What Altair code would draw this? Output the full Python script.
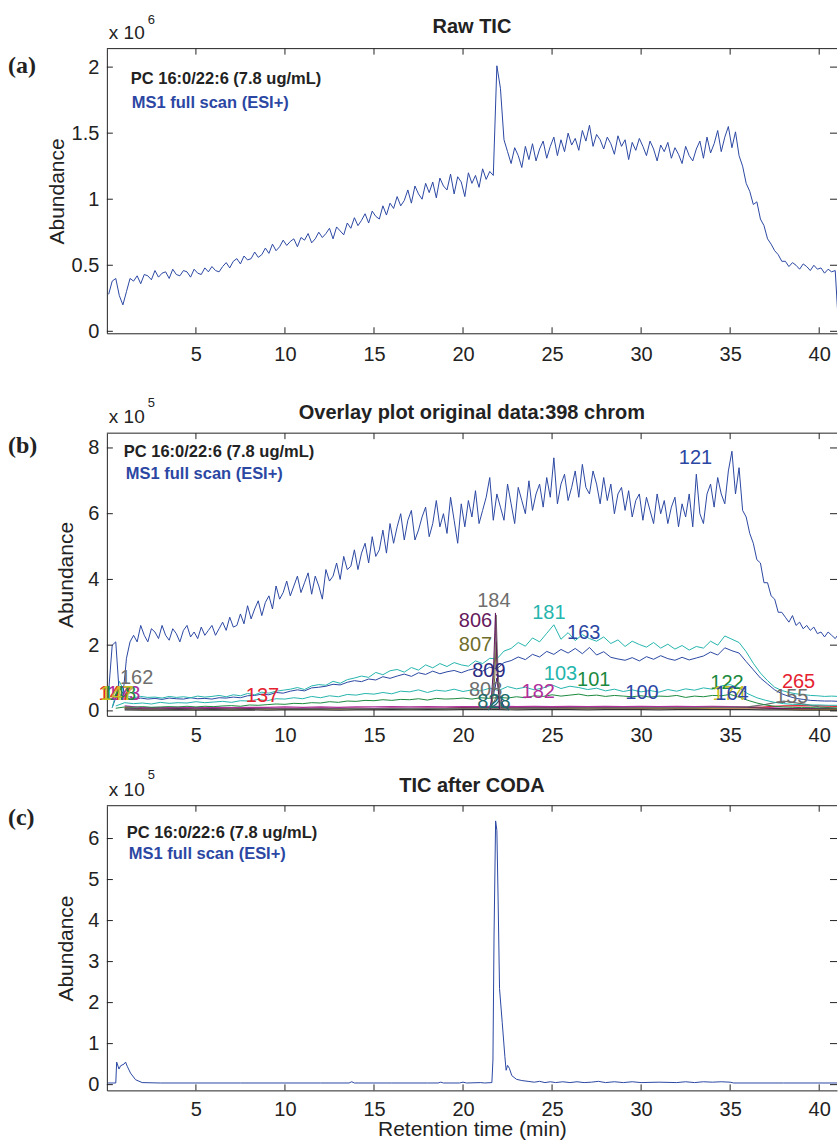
import altair as alt
import pandas as pd

FONT = "Liberation Sans"
SERIF = "Liberation Serif"
INK = "#222222"
BLUE = "#2b47a3"
CYAN = "#25b5ad"
GREEN = "#1b8a3e"
MAGENTA = "#b02f9b"
RED = "#e52330"
GRAY = "#6e6e6e"
PURPLE = "#66195c"
OLIVE = "#6f6d2b"
NAVY = "#2c2c84"
TEAL = "#1a6b6b"
YELLOW = "#c9c11f"
DARK = "#333333"

W = 731
HA, HB, HC = 285, 283, 285
X_DOMAIN = [0, 41]
X_TICKS = [5, 10, 15, 20, 25, 30, 35, 40]
YA_TICKS = [0, 0.5, 1, 1.5, 2]
YB_TICKS = [0, 2, 4, 6, 8]
YC_TICKS = [0, 1, 2, 3, 4, 5, 6]

# ---------- panel (a): raw TIC (x 1e6), one scan every 0.2 min from 0.1 min ----------
RAW_START, RAW_STEP = 0.1, 0.2
raw_tic = [
    0.28, 0.38, 0.40, 0.27, 0.20, 0.30, 0.40, 0.38, 0.42, 0.36,
    0.43, 0.42, 0.39, 0.46, 0.41, 0.44, 0.45, 0.40, 0.47, 0.43,
    0.42, 0.46, 0.45, 0.41, 0.47, 0.44, 0.43, 0.48, 0.45, 0.49,
    0.46, 0.45, 0.49, 0.52, 0.48, 0.53, 0.55, 0.51, 0.57, 0.54,
    0.55, 0.60, 0.56, 0.58, 0.63, 0.59, 0.66, 0.61, 0.64, 0.69,
    0.65, 0.68, 0.70, 0.64, 0.71, 0.69, 0.74, 0.67, 0.70, 0.75,
    0.71, 0.74, 0.78, 0.70, 0.79, 0.76, 0.73, 0.82, 0.78, 0.86,
    0.80, 0.84, 0.89, 0.82, 0.91, 0.87, 0.85, 0.95, 0.88, 0.97,
    0.93, 1.02, 0.95, 0.99, 1.07, 0.97, 1.10, 1.04, 1.00, 1.12,
    1.05, 1.13, 1.01, 1.16, 1.10, 1.07, 1.19, 1.04, 1.17, 1.13,
    1.02, 1.20, 1.12, 1.18, 1.09, 1.23, 1.15, 1.21, 1.18, 2.01,
    1.84, 1.45, 1.36, 1.27, 1.39, 1.33, 1.24, 1.40, 1.30, 1.42,
    1.29, 1.38, 1.44, 1.31, 1.40, 1.47, 1.33, 1.45, 1.36, 1.50,
    1.41, 1.46, 1.37, 1.52, 1.44, 1.56, 1.40, 1.49, 1.45, 1.38,
    1.47, 1.42, 1.34, 1.48, 1.40, 1.45, 1.30, 1.43, 1.37, 1.46,
    1.40, 1.33, 1.44, 1.38, 1.29, 1.41, 1.36, 1.43, 1.31, 1.39,
    1.34, 1.27, 1.40, 1.33, 1.29, 1.38, 1.44, 1.31, 1.47, 1.35,
    1.42, 1.52, 1.36, 1.47, 1.55, 1.39, 1.51, 1.33, 1.25, 1.12,
    1.06, 0.96, 0.98, 0.85, 0.80, 0.70, 0.66, 0.61, 0.58, 0.53,
    0.53, 0.49, 0.52, 0.50, 0.47, 0.51, 0.49, 0.46, 0.50, 0.47,
    0.48, 0.44, 0.47, 0.45, 0.46, 0.0,
]

# ---------- panel (b): overlay of chromatograms (x 1e5) ----------
# 121 (highest), same scan grid as the raw TIC
ov_121 = [
    0.6, 2.0, 2.1, 0.5, 0.45, 1.6, 2.1, 2.3, 2.1, 2.6,
    2.3, 2.1, 2.5, 2.4, 2.2, 2.6, 2.3, 2.15, 2.5, 2.35,
    2.1, 2.45, 2.6, 2.25, 2.4, 2.2, 2.55, 2.3, 2.45, 2.6,
    2.3, 2.5, 2.7, 2.45, 2.85, 2.55, 2.6, 2.95, 2.65, 3.2,
    2.8, 3.1, 3.35, 2.9, 3.3, 3.5, 3.1, 3.8, 3.4, 3.6,
    3.95, 3.5, 3.8, 4.1, 3.6, 3.9, 4.2, 3.55, 4.1, 3.8,
    3.4, 4.3, 3.95, 4.1, 4.5, 4.0, 4.7, 4.3, 4.4, 4.9,
    4.3, 4.8, 5.1, 4.5, 5.3, 4.7, 4.9, 5.5, 4.8, 5.7,
    5.1, 5.6, 6.0, 5.2, 5.8, 6.1, 5.2, 5.5, 5.9, 6.2,
    5.3, 5.7, 6.4, 5.6, 6.0, 5.4, 6.5, 5.8, 5.1, 6.3,
    5.6, 6.4, 5.9, 6.7, 5.7, 6.1, 6.5, 7.1, 5.8, 6.6,
    6.2, 5.8, 6.9, 6.3, 5.7, 6.8, 6.4, 6.0, 7.0, 6.1,
    6.6, 6.9, 6.2, 7.1, 6.5, 7.7, 6.3, 6.9, 7.2, 6.4,
    6.8, 7.3, 6.5, 7.5, 6.8, 6.6, 7.3, 6.9, 6.3, 7.1,
    6.4, 6.9, 6.0, 6.6, 6.8, 6.1, 6.7, 5.9, 6.4, 6.6,
    5.8, 6.5, 6.1, 5.7, 6.6, 6.0, 6.4, 5.7, 6.2, 6.5,
    5.6, 6.3, 5.9, 6.6, 5.6, 7.2, 6.0, 5.7, 6.6, 6.9,
    6.2, 7.1, 6.6, 6.3, 7.3, 7.9, 6.6, 7.4, 6.1, 5.9,
    5.4, 5.1, 4.6, 4.5, 3.9, 3.9, 3.5, 3.4, 3.0, 3.0,
    2.85, 2.7, 2.9, 2.6, 2.7, 2.5, 2.6, 2.45, 2.55, 2.35,
    2.4, 2.25, 2.4, 2.3, 2.2, 2.35,
]
# 181 and 163, every 0.4 min from 0.3 min
MID_START, MID_STEP = 0.3, 0.4
ov_181 = [
    0.1, 0.9, 0.45, 0.40, 0.44, 0.41, 0.42, 0.39, 0.44, 0.41,
    0.43, 0.40, 0.45, 0.42, 0.44, 0.47, 0.43, 0.49, 0.46, 0.53,
    0.49, 0.57, 0.54, 0.60, 0.63, 0.66, 0.71, 0.65, 0.76, 0.80,
    0.78, 0.90, 0.84, 0.95, 1.00, 1.06, 1.02, 1.17, 1.10, 1.22,
    1.26, 1.18, 1.32, 1.24, 1.40, 1.31, 1.44, 1.35, 1.47, 1.40,
    1.36, 1.52, 1.44, 1.60, 1.58, 1.82, 1.90, 2.08, 1.97, 2.22,
    2.10, 2.36, 2.62, 2.18, 2.38, 2.14, 2.32, 2.20, 2.12, 2.25,
    2.05, 2.16, 1.96, 2.12, 2.02, 1.94, 2.08, 1.91, 2.03, 1.88,
    1.99, 1.85, 1.96, 1.91, 2.12, 2.00, 2.28, 2.18, 2.08, 1.80,
    1.45, 1.15, 0.92, 0.72, 0.62, 0.56, 0.52, 0.50, 0.47, 0.46,
    0.44, 0.45, 0.44,
]
ov_163 = [
    0.1, 0.7, 0.38, 0.35, 0.39, 0.36, 0.38, 0.35, 0.39, 0.37,
    0.36, 0.40, 0.37, 0.38, 0.36, 0.40, 0.39, 0.42, 0.40, 0.46,
    0.47, 0.51, 0.49, 0.56, 0.54, 0.60, 0.64, 0.61, 0.70, 0.72,
    0.75, 0.81, 0.79, 0.87, 0.92, 0.89, 0.97, 0.94, 1.04, 0.99,
    1.06, 1.12, 1.05, 1.16, 1.11, 1.21, 1.13, 1.19, 1.23, 1.16,
    1.24, 1.29, 1.21, 1.33, 1.28, 1.47, 1.53, 1.64, 1.56, 1.72,
    1.64, 1.81, 1.72, 1.87, 1.76, 1.90, 1.74, 1.93, 1.70, 1.80,
    1.63, 1.58, 1.54, 1.62, 1.52, 1.65, 1.57, 1.68, 1.59, 1.54,
    1.63, 1.55, 1.61, 1.67, 1.79, 1.70, 1.92, 1.83, 1.76, 1.50,
    1.25, 1.00, 0.82, 0.64, 0.52, 0.44, 0.38, 0.35, 0.32, 0.31,
    0.30, 0.30, 0.29,
]
# 103 and 101, every 0.5 min from 0.5 min
LOW_START, LOW_STEP = 0.5, 0.5
ov_103 = [
    0.15, 0.25, 0.22, 0.24, 0.21, 0.26, 0.23, 0.25, 0.24, 0.28,
    0.25, 0.27, 0.29, 0.26, 0.31, 0.30, 0.35, 0.31, 0.37, 0.36,
    0.40, 0.37, 0.44, 0.40, 0.46, 0.43, 0.50, 0.48, 0.53, 0.51,
    0.56, 0.52, 0.60, 0.58, 0.64, 0.56, 0.63, 0.60, 0.66, 0.59,
    0.64, 0.61, 0.69, 0.62, 0.74, 0.67, 0.72, 0.64, 0.70, 0.79,
    0.68, 0.75, 0.71, 0.65, 0.69, 0.61, 0.66, 0.59, 0.64, 0.58,
    0.62, 0.57, 0.65, 0.60, 0.67, 0.63, 0.70, 0.66, 0.76, 0.80,
    0.70, 0.52, 0.40, 0.32, 0.26, 0.22, 0.20, 0.19, 0.18, 0.18,
    0.17, 0.17,
]
ov_101 = [
    0.08, 0.12, 0.11, 0.13, 0.11, 0.12, 0.13, 0.12, 0.14, 0.12,
    0.14, 0.13, 0.15, 0.16, 0.14, 0.18, 0.17, 0.19, 0.21, 0.20,
    0.23, 0.22, 0.25, 0.24, 0.28, 0.26, 0.30, 0.29, 0.32, 0.31,
    0.34, 0.32, 0.35, 0.34, 0.37, 0.33, 0.38, 0.36, 0.37, 0.39,
    0.36, 0.40, 0.38, 0.41, 0.39, 0.43, 0.40, 0.46, 0.44, 0.49,
    0.45, 0.48, 0.51, 0.46, 0.48, 0.44, 0.47, 0.45, 0.43, 0.46,
    0.42, 0.45, 0.44, 0.47, 0.41, 0.45, 0.43, 0.47, 0.46, 0.50,
    0.42, 0.32, 0.24, 0.18, 0.14, 0.12, 0.11, 0.10, 0.10, 0.09,
    0.09, 0.09,
]
# near-baseline chromatograms, every 1 min from 1 min
BASE_START, BASE_STEP = 1.0, 1.0
ov_red = [
    0.10, 0.06, 0.05, 0.06, 0.05, 0.06, 0.07, 0.08, 0.07, 0.08,
    0.07, 0.08, 0.07, 0.08, 0.07, 0.08, 0.07, 0.08, 0.08, 0.09,
    0.08, 0.09, 0.08, 0.09, 0.08, 0.09, 0.08, 0.09, 0.08, 0.09,
    0.08, 0.09, 0.08, 0.09, 0.09, 0.10, 0.12, 0.15, 0.16, 0.15,
    0.14,
]
ov_magenta = [
    0.15, 0.10, 0.10, 0.11, 0.10, 0.11, 0.10, 0.11, 0.11, 0.12,
    0.11, 0.12, 0.11, 0.12, 0.12, 0.13, 0.12, 0.13, 0.12, 0.13,
    0.13, 0.14, 0.13, 0.14, 0.13, 0.14, 0.13, 0.14, 0.13, 0.14,
    0.13, 0.14, 0.13, 0.14, 0.13, 0.12, 0.10, 0.08, 0.07, 0.07,
    0.07,
]
ov_yellow = [
    0.08, 0.04, 0.04, 0.05, 0.04, 0.05, 0.04, 0.05, 0.05, 0.06,
    0.05, 0.06, 0.05, 0.06, 0.06, 0.07, 0.06, 0.07, 0.06, 0.07,
    0.07, 0.08, 0.07, 0.08, 0.07, 0.08, 0.07, 0.08, 0.07, 0.08,
    0.07, 0.08, 0.07, 0.08, 0.09, 0.10, 0.08, 0.05, 0.04, 0.04,
    0.04,
]
ov_dark = [
    0.03, 0.02, 0.02, 0.03, 0.02, 0.03, 0.02, 0.03, 0.02, 0.03,
    0.03, 0.03, 0.02, 0.03, 0.03, 0.04, 0.03, 0.04, 0.03, 0.04,
    0.04, 0.04, 0.03, 0.04, 0.04, 0.04, 0.03, 0.04, 0.04, 0.04,
    0.03, 0.04, 0.04, 0.04, 0.04, 0.04, 0.03, 0.03, 0.02, 0.02,
    0.02,
]
ov_gray = [
    0.06, 0.05, 0.05, 0.05, 0.05, 0.05, 0.06, 0.05, 0.06, 0.06,
    0.06, 0.06, 0.06, 0.07, 0.06, 0.07, 0.07, 0.07, 0.07, 0.08,
    0.08, 0.08, 0.08, 0.09, 0.08, 0.09, 0.09, 0.09, 0.09, 0.10,
    0.10, 0.10, 0.10, 0.11, 0.11, 0.12, 0.20, 0.30, 0.22, 0.12,
    0.08,
]
ov_purple = [
    0.08, 0.06, 0.06, 0.07, 0.06, 0.07, 0.06, 0.07, 0.07, 0.07,
    0.07, 0.08, 0.07, 0.08, 0.07, 0.08, 0.08, 0.08, 0.08, 0.09,
    0.09, 0.10, 0.09, 0.10, 0.09, 0.10, 0.09, 0.10, 0.09, 0.10,
    0.09, 0.09, 0.09, 0.10, 0.10, 0.10, 0.08, 0.07, 0.06, 0.06,
    0.06,
]
# the narrow peaks at 21.9 min
sp806_t = [21.55, 21.72, 21.82, 21.92, 22.05]
sp806_v = [0.05, 1.40, 2.98, 1.10, 0.05]
sp184_t = [21.60, 21.78, 21.86, 21.96, 22.10]
sp184_v = [0.05, 1.60, 2.92, 1.30, 0.05]
sp807_t = [21.60, 21.78, 21.86, 21.95, 22.08]
sp807_v = [0.05, 1.00, 2.10, 0.90, 0.05]
sp809_t = [21.50, 21.80, 21.90, 22.05, 22.30]
sp809_v = [0.10, 0.70, 1.00, 0.50, 0.10]
sp808_t = [21.50, 21.80, 21.90, 22.10, 22.40]
sp808_v = [0.05, 0.35, 0.50, 0.30, 0.05]
sp828_t = [21.40, 21.85, 22.00, 22.30, 22.60]
sp828_v = [0.03, 0.20, 0.30, 0.15, 0.03]

# chromatogram numbers written on the overlay plot
lab_text = ["147", "173", "148", "147", "162", "137", "806", "807", "184", "809",
            "808", "828", "181", "163", "103", "101", "182", "100", "121", "122",
            "174", "164", "265", "155"]
lab_t = [0.47, 0.95, 0.70, 0.56, 1.67, 8.74, 20.70, 20.70, 21.73, 21.45,
         21.27, 21.73, 24.82, 26.78, 25.47, 27.34, 24.22, 30.05, 33.05, 34.82,
         34.95, 35.10, 38.84, 38.46]
lab_v = [0.51, 0.51, 0.51, 0.51, 1.01, 0.46, 2.74, 2.00, 3.34, 1.22,
         0.64, 0.26, 2.99, 2.36, 1.12, 0.93, 0.56, 0.54, 7.68, 0.84,
         0.51, 0.51, 0.88, 0.41]
lab_color = [RED, MAGENTA, GREEN, YELLOW, GRAY, RED, PURPLE, OLIVE, GRAY, NAVY,
             GRAY, TEAL, CYAN, BLUE, CYAN, GREEN, MAGENTA, BLUE, BLUE, GREEN,
             YELLOW, BLUE, RED, GRAY]

# ---------- panel (c): TIC after CODA (x 1e5) ----------
coda_t = [0.07, 0.5, 0.55, 0.68, 0.77, 0.96, 1.05, 1.14, 1.33, 1.61,
          1.98, 3.0, 5.0, 7.5, 10.0, 12.0, 13.6, 13.75, 13.9, 16.0,
          18.0, 18.6, 18.75, 18.9, 19.8, 20.0, 20.2, 21.0, 21.2, 21.62,
          21.68, 21.74, 21.83, 21.9, 21.97, 22.05, 22.2, 22.35, 22.42, 22.5,
          22.6, 22.74, 23.0, 23.3, 23.65, 24.0, 24.3, 24.6, 24.9, 25.2,
          25.6, 26.0, 26.4, 26.8, 27.2, 27.6, 28.0, 28.5, 29.0, 29.5,
          30.0, 31.0, 32.0, 32.5, 33.0, 33.5, 34.0, 34.5, 35.0, 35.2,
          38.0, 41.0]
coda_v = [0.04, 0.04, 0.55, 0.38, 0.46, 0.50, 0.55, 0.45, 0.28, 0.12,
          0.05, 0.04, 0.04, 0.04, 0.04, 0.04, 0.04, 0.07, 0.04, 0.04,
          0.04, 0.04, 0.06, 0.04, 0.04, 0.06, 0.04, 0.05, 0.04, 0.05,
          0.6, 3.6, 6.43, 6.2, 4.5, 2.34, 1.52, 0.68, 0.35, 0.47,
          0.4, 0.22, 0.13, 0.1, 0.08, 0.06, 0.08, 0.05, 0.07, 0.05,
          0.07, 0.05, 0.07, 0.05, 0.06, 0.08, 0.05, 0.07, 0.05, 0.07,
          0.05, 0.06, 0.05, 0.07, 0.05, 0.07, 0.06, 0.07, 0.06, 0.04,
          0.04, 0.04]

ONE = pd.DataFrame({"k": [0]})


def on_grid(start, step, values):
    return pd.DataFrame({"t": [round(start + step * i, 3) for i in range(len(values))], "v": values})


def pairs(ts, vs):
    return pd.DataFrame({"t": ts, "v": vs})


def x_enc(title=None, label_pad=10):
    return alt.X(
        "t:Q", title=title,
        scale=alt.Scale(domain=X_DOMAIN, nice=False, zero=False),
        axis=alt.Axis(values=X_TICKS, ticks=False, grid=False, domain=True, domainColor=INK,
                      domainWidth=1, labelFont=FONT, labelFontSize=20, labelColor=INK,
                      labelPadding=label_pad, titleFont=FONT, titleFontSize=21,
                      titleFontWeight="normal", titleColor=INK, titlePadding=-1),
    )


def y_enc(domain, ticks, title_pad):
    return alt.Y(
        "v:Q", title="Abundance",
        scale=alt.Scale(domain=domain, nice=False, zero=False),
        axis=alt.Axis(values=ticks, format="~g", ticks=False, grid=False, domain=True,
                      domainColor=INK, domainWidth=1, labelFont=FONT, labelFontSize=20,
                      labelColor=INK, labelPadding=8, titleFont=FONT, titleFontSize=21,
                      titleFontWeight="normal", titleColor=INK, titlePadding=title_pad),
    )


def line(df, color, xe, ye, width=1.0):
    return alt.Chart(df).mark_line(color=color, strokeWidth=width, clip=True).encode(x=xe, y=ye)


def text_px(txt, x, y, size, color=INK, weight="normal", font=FONT, align="left"):
    return alt.Chart(ONE).mark_text(
        text=txt, fontSize=size, fontWeight=weight, font=font, color=color,
        align=align, baseline="alphabetic",
    ).encode(x=alt.value(x), y=alt.value(y))


def frame(H, yticks, xe, ye):
    xt = pd.DataFrame({"t": X_TICKS})
    yt = pd.DataFrame({"v": yticks})
    top = alt.Chart(ONE).mark_rule(color=INK, strokeWidth=1).encode(
        x=alt.value(0), x2=alt.value(W), y=alt.value(0))
    xb = alt.Chart(xt).mark_rule(color=INK).encode(x=xe, y=alt.value(H), y2=alt.value(H - 6))
    xtop = alt.Chart(xt).mark_rule(color=INK).encode(x=xe, y=alt.value(0), y2=alt.value(6))
    yl = alt.Chart(yt).mark_rule(color=INK).encode(y=ye, x=alt.value(0), x2=alt.value(6))
    yr = alt.Chart(yt).mark_rule(color=INK).encode(y=ye, x=alt.value(W), x2=alt.value(W - 7))
    return [top, xb, xtop, yl, yr]


def decorations(title, exp, panel, t_base, e_base, p_base, pc_xy, ms_xy):
    return [
        text_px(title, W / 2, t_base, 20, weight="bold", align="center"),
        text_px("x 10", 2, -10, 19),
        text_px(exp, 41, e_base, 13),
        text_px(panel, -99, p_base, 24, weight="bold", font=SERIF),
        text_px("PC 16:0/22:6 (7.8 ug/mL)", pc_xy[0], pc_xy[1], 16.5, weight="bold"),
        text_px("MS1 full scan (ESI+)", ms_xy[0], ms_xy[1], 16.5, color=BLUE, weight="bold"),
    ]


# ---- panel a ----
xa = x_enc(label_pad=11)
ya = y_enc([-0.015, 2.14], YA_TICKS, 4)
panel_a = alt.layer(
    line(on_grid(RAW_START, RAW_STEP, raw_tic), BLUE, xa, ya),
    *frame(HA, YA_TICKS, xa, ya),
    *decorations("Raw TIC", "6", "(a)", -16, -25, 24, (24, 35), (25, 59)),
).properties(width=W, height=HA)

# ---- panel b ----
xb = x_enc(label_pad=10)
yb = y_enc([-0.15, 8.45], YB_TICKS, 11)
b_lines = [
    (on_grid(BASE_START, BASE_STEP, ov_red), RED),
    (on_grid(BASE_START, BASE_STEP, ov_magenta), MAGENTA),
    (on_grid(BASE_START, BASE_STEP, ov_yellow), YELLOW),
    (on_grid(BASE_START, BASE_STEP, ov_purple), PURPLE),
    (on_grid(BASE_START, BASE_STEP, ov_gray), GRAY),
    (on_grid(BASE_START, BASE_STEP, ov_dark), DARK),
    (on_grid(LOW_START, LOW_STEP, ov_101), GREEN),
    (on_grid(LOW_START, LOW_STEP, ov_103), CYAN),
    (on_grid(MID_START, MID_STEP, ov_163), BLUE),
    (on_grid(MID_START, MID_STEP, ov_181), CYAN),
    (pairs(sp828_t, sp828_v), TEAL),
    (pairs(sp808_t, sp808_v), GRAY),
    (pairs(sp809_t, sp809_v), NAVY),
    (pairs(sp807_t, sp807_v), OLIVE),
    (pairs(sp184_t, sp184_v), GRAY),
    (pairs(sp806_t, sp806_v), PURPLE),
    (on_grid(RAW_START, RAW_STEP, ov_121), BLUE),
]
labels_df = pd.DataFrame({"label": lab_text, "t": lab_t, "v": lab_v, "color": lab_color})
b_labels = alt.Chart(labels_df).mark_text(
    font=FONT, fontSize=20, align="center", baseline="middle"
).encode(x=xb, y=yb, text="label:N", color=alt.Color("color:N", scale=None))
panel_b = alt.layer(
    *[line(df, c, xb, yb, 1.2 if df["v"].max() < 0.4 else 1.0) for df, c in b_lines],
    b_labels,
    *frame(HB, YB_TICKS, xb, yb),
    *decorations("Overlay plot original data:398 chrom", "5", "(b)", -14, -26, 20, (17, 24), (19, 46)),
).properties(width=W, height=HB)

# ---- panel c ----
xc = x_enc(title="Retention time (min)", label_pad=9)
yc = y_enc([-0.14, 6.8], YC_TICKS, 11)
panel_c = alt.layer(
    line(pairs(coda_t, coda_v), BLUE, xc, yc),
    *frame(HC, YC_TICKS, xc, yc),
    *decorations("TIC after CODA", "5", "(c)", -14, -27, 19, (20, 32), (22, 53)),
).properties(width=W, height=HC)

chart = alt.vconcat(
    panel_a,
    alt.vconcat(panel_b, panel_c, spacing=23),
    spacing=33,
).properties(
    padding={"left": 8, "top": 13, "right": 0, "bottom": 0},
    background="white",
).configure_view(strokeWidth=0)

chart.save("out.html", embed_options={"renderer": "svg", "actions": False})
